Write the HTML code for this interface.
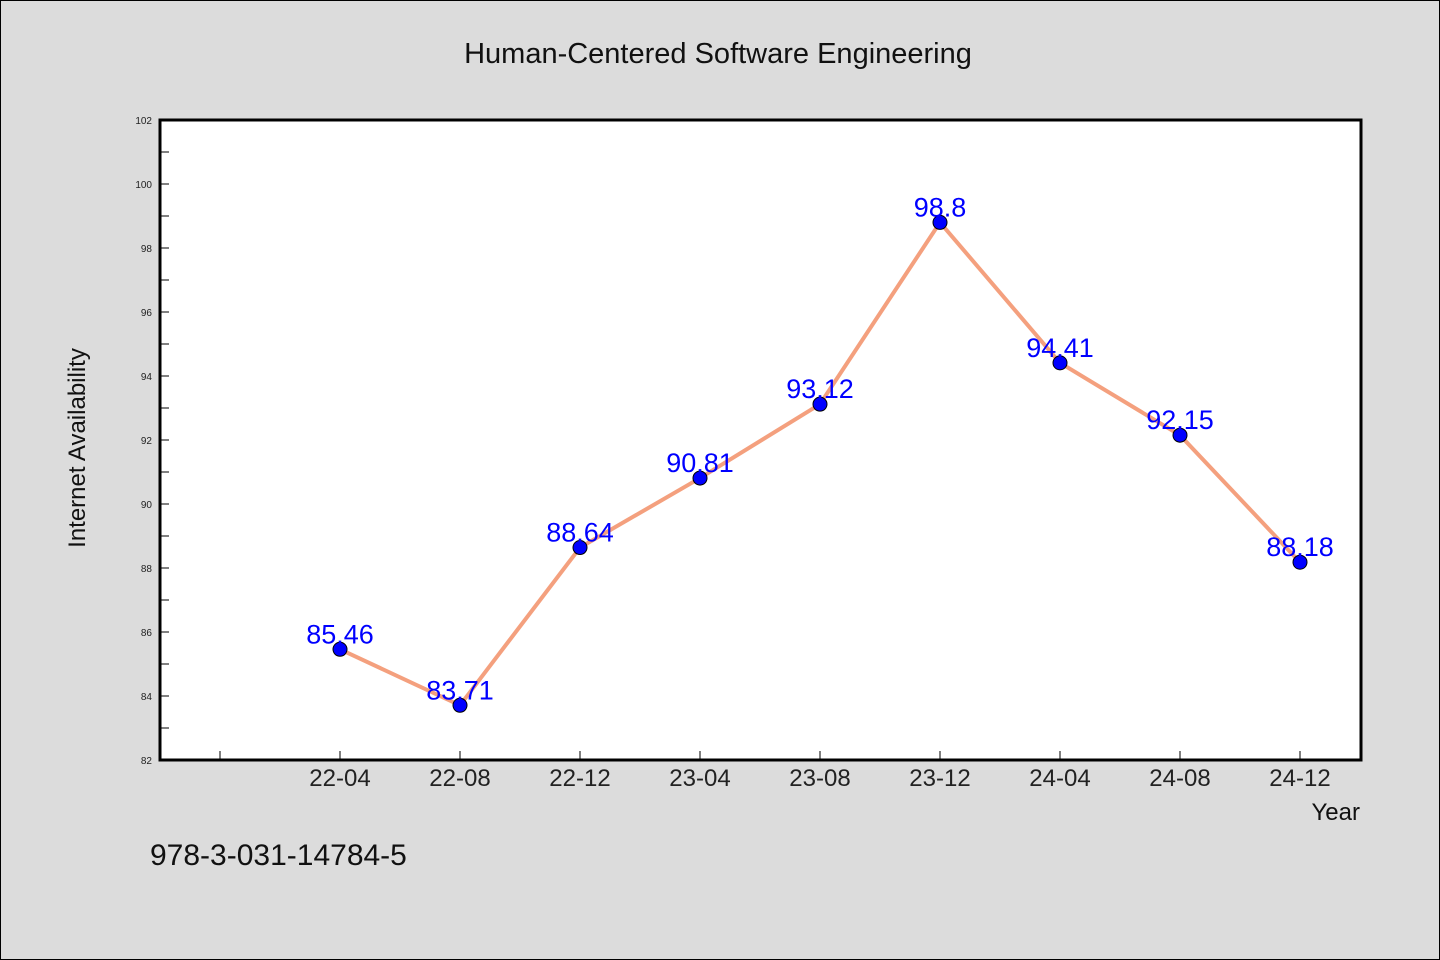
<!DOCTYPE html>
<html><head><meta charset="utf-8"><style>
body{margin:0;background:#dcdcdc;}
svg{display:block;font-family:"WenQuanYi Zen Hei","Liberation Sans",sans-serif;}
</style></head><body>
<svg width="1440" height="960">
<rect x="0.5" y="0.5" width="1439" height="959" fill="#dcdcdc" stroke="#000"/>
<text x="718" y="63" text-anchor="middle" font-size="29" fill="#111">Human-Centered Software Engineering</text>
<rect x="160" y="120" width="1201" height="640" fill="#fff" stroke="#000" stroke-width="3"/>
<g id="yaxis"></g><g id="xaxis"></g><g id="series"></g>
<text transform="translate(85,448) rotate(-90)" text-anchor="middle" font-size="24" fill="#111">Internet Availability</text>
<text x="1360" y="820" text-anchor="end" font-size="24" fill="#111">Year</text>
<text x="150" y="865" font-size="30" fill="#111">978-3-031-14784-5</text>
</svg>
<script>
const categories=["22-04","22-08","22-12","23-04","23-08","23-12","24-04","24-08","24-12"];
const values=[85.46,83.71,88.64,90.81,93.12,98.8,94.41,92.15,88.18];
const valueLabels=["85.46","83.71","88.64","90.81","93.12","98.8","94.41","92.15","88.18"];
const yTicks=[82,84,86,88,90,92,94,96,98,100,102];
const NS="http://www.w3.org/2000/svg";
function y(v){return 760-(v-82)*32;}
function x(i){return 340+120*i;}
function mk(tag,attrs,parent){const e=document.createElementNS(NS,tag);for(const k in attrs)e.setAttribute(k,attrs[k]);parent.appendChild(e);return e;}
const ya=document.getElementById('yaxis');
yTicks.forEach(t=>{
 const l=mk('line',{x1:160,x2:169,y1:y(t),y2:y(t),stroke:'#000','stroke-width':1},ya);
 
 
 const tx=mk('text',{x:152,y:y(t)+4,'text-anchor':'end','font-size':10,fill:'#222'},ya);
 tx.textContent=t;
 
 
 if(t<102){const m=mk('line',{x1:160,x2:169,y1:y(t+1),y2:y(t+1),stroke:'#000','stroke-width':1},ya);
 
 }
});
const xa=document.getElementById('xaxis');
const t0=mk('line',{x1:220,x2:220,y1:760,y2:751,stroke:'#000'},xa);


categories.forEach((c,i)=>{
 const l=mk('line',{x1:x(i),x2:x(i),y1:760,y2:751,stroke:'#000'},xa);
 
 
 const tx=mk('text',{x:x(i),y:786,'text-anchor':'middle','font-size':24,fill:'#222'},xa);
 tx.textContent=c;
 
 
});
const s=document.getElementById('series');
const pl=mk('polyline',{points:values.map((v,i)=>x(i)+','+y(v)).join(' '),fill:'none',stroke:'#f4a07e','stroke-width':4},s);


values.forEach((v,i)=>{
 const c=mk('circle',{cx:x(i),cy:y(v),r:7,fill:'#0000ff',stroke:'#000','stroke-width':1},s);
 
 
 const tx=mk('text',{x:x(i),y:y(v)-6,'text-anchor':'middle','font-size':27,fill:'#0000ff','font-family':'Liberation Sans, sans-serif'},s);
 tx.textContent=valueLabels[i];
 
 
});
</script>
</body></html>
